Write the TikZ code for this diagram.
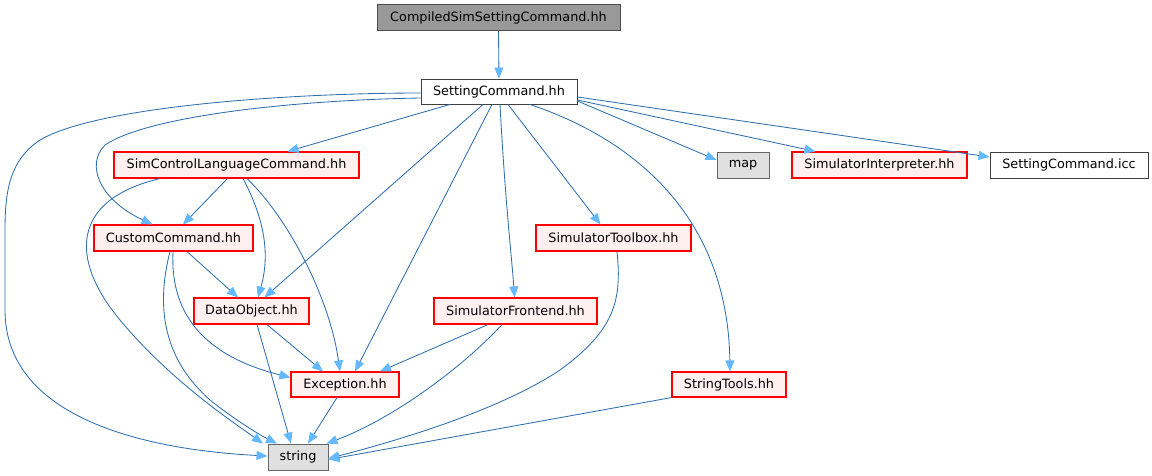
\documentclass[tikz,border=0pt]{standalone}
\usepackage{fontspec}
\setmainfont{DejaVu Sans}
\usetikzlibrary{arrows.meta}
\definecolor{edgecol}{HTML}{2F6FAF}
\definecolor{arrowfill}{HTML}{63B8FF}
\definecolor{redfill}{HTML}{FFF0F0}
\definecolor{grayfill}{HTML}{E0E0E0}
\definecolor{darkfill}{HTML}{999999}
\tikzset{
  box/.style={draw=black!75, line width=0.9pt, minimum height=26pt, inner sep=0pt, font=\fontsize{12.8}{15}\selectfont, text=black},
  topbox/.style={box, fill=darkfill, draw=black!70},
  whitebox/.style={box, fill=white, draw=black!75},
  redbox/.style={box, fill=redfill, draw=red, line width=1.1pt},
  graybox/.style={box, fill=grayfill, draw=black!60},
  e/.style={draw=edgecol, line width=0.85pt, -{Triangle[length=11pt,width=9pt,fill=arrowfill,color=arrowfill]}}
}
\begin{document}
\begin{tikzpicture}[x=1pt,y=-1pt]
\useasboundingbox (0,0) rectangle (1152,476);
\node[topbox, minimum width=243pt] (comp) at (498.5,17.5) {CompiledSimSettingCommand.hh};
\node[whitebox, minimum width=156pt, minimum height=25pt] (sc) at (499,91.5) {SettingCommand.hh};
\node[redbox, minimum width=245pt] (simc) at (236.5,165) {SimControlLanguageCommand.hh};
\node[graybox, minimum width=52pt] (map) at (743,165) {map};
\node[redbox, minimum width=175pt] (simi) at (879.5,165) {SimulatorInterpreter.hh};
\node[whitebox, minimum width=158pt] (icc) at (1069,165) {SettingCommand.icc};
\node[redbox, minimum width=159pt] (cc) at (173.5,238) {CustomCommand.hh};
\node[redbox, minimum width=155pt] (tb) at (613.5,238) {SimulatorToolbox.hh};
\node[redbox, minimum width=115pt] (do) at (251.5,311) {DataObject.hh};
\node[redbox, minimum width=163pt] (fe) at (515.5,311) {SimulatorFrontend.hh};
\node[redbox, minimum width=108pt, minimum height=25pt] (exc) at (345,384.5) {Exception.hh};
\node[redbox, minimum width=114pt, minimum height=25pt] (st) at (729,384.5) {StringTools.hh};
\node[graybox, minimum width=60pt] (str) at (298,457) {string};

% edges
\draw[e] (comp.south) -- (sc.north);
% SettingCommand
\draw[e] ([yshift=-1.5pt]sc.west) .. controls (300,93) and (100,105) .. (40,140)
  .. controls (10,160) and (5,190) .. (5,230) -- (5,310)
  .. controls (5,420) and (150,450) .. ([yshift=1pt]str.west);
\draw[e] ([yshift=-6.5pt]sc.west) .. controls (300,100) and (150,115) .. (105,145)
  .. controls (85,165) and (100,200) .. ([xshift=-21pt]cc.north);
\draw[e] ([xshift=-49pt]sc.south) -- ([xshift=51pt]simc.north);
\draw[e] ([xshift=-16pt]sc.south) -- ([xshift=13pt]do.north);
\draw[e] ([xshift=-7pt]sc.south) -- ([xshift=10pt]exc.north);
\draw[e] ([xshift=1pt]sc.south) .. controls (505,200) and (512,260) .. ([xshift=-1pt]fe.north);
\draw[e] ([xshift=9pt]sc.south) -- ([xshift=-13pt]tb.north);
\draw[e] ([xshift=31pt]sc.south) .. controls (650,145) and (728,230) .. ([xshift=1pt]st.north);
\draw[e] ([yshift=-9.5pt]sc.east) -- ([yshift=5pt]map.west);
\draw[e] ([yshift=-8.5pt]sc.east) -- ([xshift=-64pt]simi.north);
\draw[e] ([yshift=-5.5pt]sc.east) -- ([yshift=8pt]icc.west);
% SimControlLanguageCommand
\draw[e] ([xshift=-9pt]simc.south) -- ([xshift=9.5pt]cc.north);
\draw[e] ([xshift=6.5pt]simc.south) .. controls (265,220) and (270,255) .. ([xshift=6.5pt]do.north);
\draw[e] ([xshift=10.5pt]simc.south) .. controls (290,220) and (330,300) .. ([xshift=-5pt]exc.north);
\draw[e] ([xshift=-76.5pt]simc.south) .. controls (70,200) and (70,260) .. (120,320)
  .. controls (170,380) and (230,420) .. ([xshift=-35pt]str.north);
% CustomCommand
\draw[e] ([xshift=13.5pt]cc.south) -- ([xshift=-13.5pt]do.north);
\draw[e] ([xshift=-0.5pt]cc.south) .. controls (170,310) and (200,355) .. ([yshift=7pt]exc.west);
\draw[e] ([xshift=-3.5pt]cc.south) .. controls (155,310) and (165,360) .. (210,400)
  .. controls (235,420) and (260,435) .. ([xshift=-21pt]str.north);
% DataObject
\draw[e] ([xshift=15.5pt]do.south) -- ([xshift=-22pt]exc.north);
\draw[e] ([xshift=5.5pt]do.south) -- ([xshift=-7pt]str.north);
% Exception
\draw[e] ([xshift=-8pt]exc.south) -- ([xshift=10pt]str.north);
% SimulatorFrontend
\draw[e] ([xshift=-27.5pt]fe.south) -- ([xshift=35pt]exc.north);
\draw[e] ([xshift=-13.5pt]fe.south) .. controls (460,370) and (390,420) .. ([xshift=-2pt]str.north east);
% SimulatorToolbox
\draw[e] ([xshift=3.5pt]tb.south) .. controls (622,300) and (615,330) .. (560,370)
  .. controls (500,410) and (400,440) .. ([yshift=-1.5pt]str.east);
% StringTools
\draw[e] (st.south west) -- ([yshift=-2.5pt]str.east);
\end{tikzpicture}
\end{document}
